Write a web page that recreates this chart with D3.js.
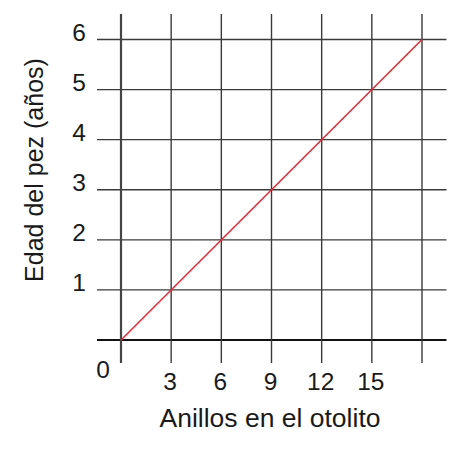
<!DOCTYPE html>
<html>
<head>
<meta charset="utf-8">
<script src="https://cdn.jsdelivr.net/npm/d3@7"></script>
<style>
  html, body { margin: 0; padding: 0; background: #fff; }
  svg { display: block; }
  text { font-family: "Liberation Sans", Arial, sans-serif; fill: #1a1a1a; }
</style>
</head>
<body>
<script>
// Data
const xGridValues = [0, 3, 6, 9, 12, 15, 18];
const yGridValues = [0, 1, 2, 3, 4, 5, 6];
const xTickLabels = [3, 6, 9, 12, 15];
const yTickLabels = [1, 2, 3, 4, 5, 6];
const rings = [0, 18];        // Anillos en el otolito
const ages = [0, 6];          // Edad del pez (años)
const xTitle = "Anillos en el otolito";
const yTitle = "Edad del pez (años)";

const W = 458, H = 452;
const svg = d3.select("body").append("svg").attr("width", W).attr("height", H);

const x = d3.scaleLinear().domain([0, 18]).range([121, 422]);
const y = d3.scaleLinear().domain([0, 6]).range([340, 39.5]);

// Horizontal grid lines
svg.append("g").selectAll("line").data(yGridValues).join("line")
  .attr("x1", x(0) - 24).attr("x2", x(18) + 24.5)
  .attr("y1", d => y(d)).attr("y2", d => y(d))
  .attr("stroke", d => d === 0 ? "#111" : "#3a3a3a")
  .attr("stroke-width", d => d === 0 ? 2 : 1.3);

// Vertical grid lines
svg.append("g").selectAll("line").data(xGridValues).join("line")
  .attr("x1", d => x(d)).attr("x2", d => x(d))
  .attr("y1", y(6) - 25.5).attr("y2", y(0) + 23)
  .attr("stroke", d => d === 0 ? "#444" : "#3a3a3a")
  .attr("stroke-width", d => d === 0 ? 2.2 : 1.4);

// Red line
const line = d3.line().x((d, i) => x(rings[i])).y((d, i) => y(ages[i]));
svg.append("path").datum(rings).attr("d", line)
  .attr("fill", "none").attr("stroke", "#f0242c").attr("stroke-width", 1.5);

// X tick labels
svg.append("g").selectAll("text").data(xTickLabels).join("text")
  .attr("x", d => x(d) - 1).attr("y", 390)
  .attr("text-anchor", "middle").attr("font-size", 24.5)
  .text(d => d);

// Y tick labels
svg.append("g").selectAll("text").data(yTickLabels).join("text")
  .attr("x", x(0) - 35).attr("y", d => y(d) + 1)
  .attr("text-anchor", "end").attr("font-size", 24.5)
  .text(d => d);

// Origin label
svg.append("text").attr("x", x(0) - 18).attr("y", y(0) + 38)
  .attr("text-anchor", "middle").attr("font-size", 24.5).text(0);

// Axis titles
svg.append("text").attr("x", 270).attr("y", 427)
  .attr("text-anchor", "middle").attr("font-size", 26.5).text(xTitle);

svg.append("text").attr("transform", "translate(43,170) rotate(-90)")
  .attr("text-anchor", "middle").attr("font-size", 25).text(yTitle);
</script>
</body>
</html>
